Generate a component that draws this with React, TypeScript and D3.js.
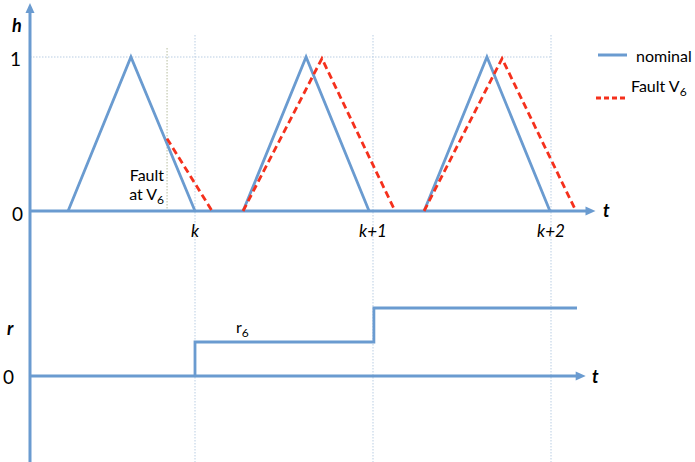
import React from "react";
import * as d3 from "d3";

// ---- data (time in units where k = 10, k+1 = 20, k+2 = 30) ----
const tickT = [10, 20, 30];
const tickLabels = ["k", "k+1", "k+2"];

const nominal1T = [2.87, 6.4, 10.0];
const nominal2T = [12.7, 16.24, 19.78];
const nominal3T = [22.87, 26.4, 29.94];
const nominalH = [0, 1, 0];

const fault1T = [8.43, 10.96];
const fault1H = [0.47, 0];
const fault2T = [12.7, 17.13, 21.24];
const fault3T = [22.87, 27.25, 31.4];
const faultH = [0, 0.99, 0];

const faultTime = 8.43;

const residualT = [10, 10, 20.05, 20.05, 31.46];
const residualV = [0, 1, 1, 2, 2];

const W = 695;
const H = 462;
const BLUE = "#6a9bd0";
const RED = "#f5301c";
const FONT = "Lato, 'Open Sans', sans-serif";

export default function App() {
  const x = d3.scaleLinear().domain([0, 30]).range([17, 551]);
  const yH = d3.scaleLinear().domain([0, 1]).range([211, 57]);
  const yR = d3.scaleLinear().domain([0, 2]).range([376, 308]);

  const axisX = x(0.73);
  const tEndTop = x(32.5);
  const tEndBot = x(31.95);

  const lineH = d3
    .line<[number, number]>()
    .x((d) => x(d[0]))
    .y((d) => yH(d[1]));
  const lineR = d3
    .line<[number, number]>()
    .x((d) => x(d[0]))
    .y((d) => yR(d[1]));

  const zip = (ts: number[], vs: number[]) =>
    ts.map((t, i) => [t, vs[i]] as [number, number]);

  const nominals = [nominal1T, nominal2T, nominal3T].map((ts) => zip(ts, nominalH));
  const faults = [zip(fault1T, fault1H), zip(fault2T, faultH), zip(fault3T, faultH)];

  return (
    <svg
      width={W}
      height={H}
      style={{ position: "absolute", left: 0, top: 0, background: "#fff" }}
      fontFamily={FONT}
    >
      {/* grid lines */}
      <line
        x1={axisX}
        x2={x(30)}
        y1={yH(1)}
        y2={yH(1)}
        stroke="#b9cde3"
        strokeWidth={1}
        strokeDasharray="1.5 1.5"
      />
      {tickT.map((t) => (
        <line
          key={t}
          x1={x(t)}
          x2={x(t)}
          y1={35}
          y2={H}
          stroke="#b9cde3"
          strokeWidth={1}
          strokeDasharray="1.5 1.5"
        />
      ))}
      <line
        x1={x(faultTime)}
        x2={x(faultTime)}
        y1={48}
        y2={yH(0)}
        stroke="#b7bc9e"
        strokeWidth={1}
        strokeDasharray="1.5 1.5"
      />

      {/* axes */}
      <line x1={axisX} x2={axisX} y1={10} y2={H} stroke={BLUE} strokeWidth={3} />
      <path
        d={`M${axisX - 4.5},${13} L${axisX},${3} L${axisX + 4.5},${13} Z`}
        fill={BLUE}
      />
      <line x1={axisX} x2={tEndTop - 8} y1={yH(0)} y2={yH(0)} stroke={BLUE} strokeWidth={3} />
      <path
        d={`M${tEndTop - 10},${yH(0) - 4.5} L${tEndTop},${yH(0)} L${tEndTop - 10},${yH(0) + 4.5} Z`}
        fill={BLUE}
      />
      <line x1={axisX} x2={tEndBot - 8} y1={yR(0)} y2={yR(0)} stroke={BLUE} strokeWidth={3} />
      <path
        d={`M${tEndBot - 10},${yR(0) - 4.5} L${tEndBot},${yR(0)} L${tEndBot - 10},${yR(0) + 4.5} Z`}
        fill={BLUE}
      />

      {/* nominal */}
      {nominals.map((pts, i) => (
        <path
          key={"n" + i}
          d={lineH(pts) || ""}
          fill="none"
          stroke={BLUE}
          strokeWidth={2.8}
          strokeLinejoin="miter"
        />
      ))}
      {/* fault */}
      {faults.map((pts, i) => (
        <path
          key={"f" + i}
          d={lineH(pts) || ""}
          fill="none"
          stroke={RED}
          strokeWidth={2.8}
          strokeDasharray="7 4"
        />
      ))}

      {/* residual */}
      <path
        d={lineR(zip(residualT, residualV)) || ""}
        fill="none"
        stroke={BLUE}
        strokeWidth={2.8}
      />

      {/* labels */}
      <text x={12} y={32} fontSize={18} fontWeight="bold" fontStyle="italic" fill="#000">
        h
      </text>
      <text x={10} y={66} fontSize={19} fill="#000">
        1
      </text>
      <text x={12} y={221} fontSize={19} fill="#000">
        0
      </text>
      <text x={603} y={217} fontSize={18} fontWeight="bold" fontStyle="italic" fill="#000">
        t
      </text>
      {tickT.map((t, i) => (
        <text
          key={"tl" + i}
          x={x(t)}
          y={237}
          fontSize={17}
          fontStyle="italic"
          textAnchor="middle"
          fill="#000"
        >
          {tickLabels[i]}
        </text>
      ))}
      <text x={x(faultTime) - 3} y={181} fontSize={16} textAnchor="end" fill="#000">
        Fault
      </text>
      <text x={x(faultTime) - 3} y={200} fontSize={16} textAnchor="end" fill="#000">
        at V<tspan fontSize={12} dy={4}>6</tspan>
      </text>

      <text x={7} y={335} fontSize={18} fontWeight="bold" fontStyle="italic" fill="#000">
        r
      </text>
      <text x={3} y={384} fontSize={19} fill="#000">
        0
      </text>
      <text x={592} y={383} fontSize={18} fontWeight="bold" fontStyle="italic" fill="#000">
        t
      </text>
      <text x={236} y={333} fontSize={16} fill="#000">
        r<tspan fontSize={12} dy={4}>6</tspan>
      </text>

      {/* legend */}
      <line x1={598} x2={627} y1={55} y2={55} stroke={BLUE} strokeWidth={3} />
      <text x={636} y={62} fontSize={16} fill="#000">
        nominal
      </text>
      <line x1={596} x2={627} y1={98} y2={98} stroke={RED} strokeWidth={3} strokeDasharray="5 3" />
      <text x={631} y={92} fontSize={16} fill="#000">
        Fault V<tspan fontSize={12} dy={4}>6</tspan>
      </text>
    </svg>
  );
}
